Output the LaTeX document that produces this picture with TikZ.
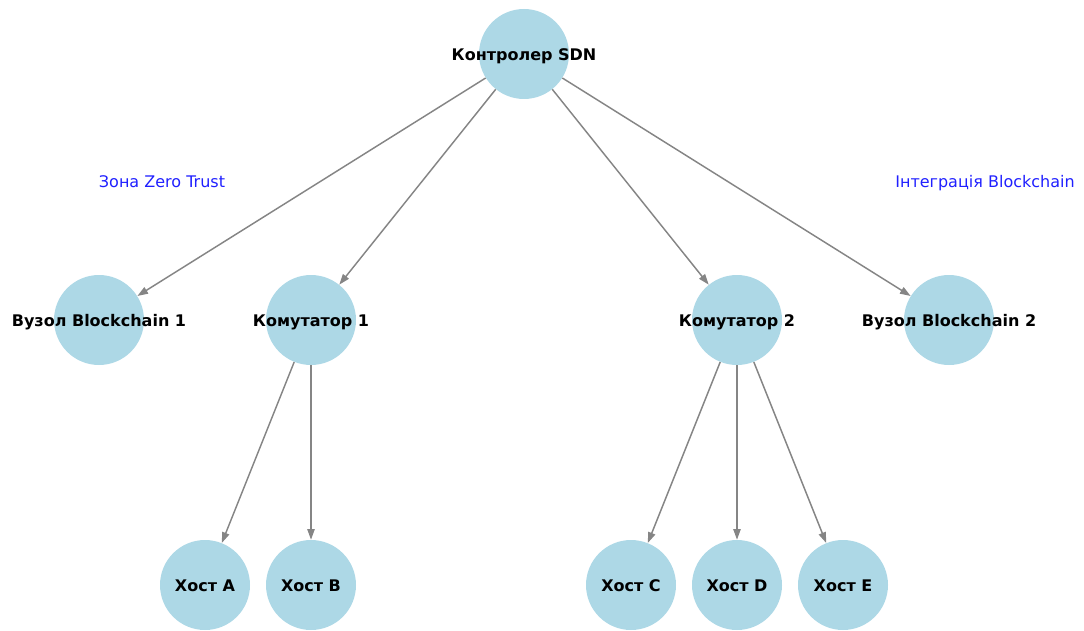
\documentclass[tikz,border=0pt]{standalone}
\usepackage{fontspec}
\setmainfont{DejaVu Sans}
\usetikzlibrary{arrows.meta}
\definecolor{nodefill}{HTML}{ADD8E6}
\definecolor{edgegray}{HTML}{858585}
\definecolor{notecol}{HTML}{2020FF}
\tikzset{
  hub/.style={circle, fill=nodefill, draw=none, minimum size=67.5pt, inner sep=0pt},
  hubtext/.style={font=\fontsize{12}{14}\selectfont\bfseries, text=black, inner sep=0pt,
    text height=0.73em, text depth=0pt, yshift=-1.5pt},
  note/.style={font=\fontsize{12}{14}\selectfont, text=notecol, inner sep=0pt,
    text height=0.73em, text depth=0pt, yshift=-1.5pt},
  link/.style={draw=edgegray, line width=1.1pt, -{Triangle[length=8pt,width=5.5pt]}}
}
\begin{document}
\begin{tikzpicture}[x=0.75pt, y=-0.75pt]
\useasboundingbox (0,0) rectangle (1084,631);
% controller
\node[hub] (ctrl) at (524,54) {};
% second tier
\node[hub] (bc1) at (99,320) {};
\node[hub] (sw1) at (311,320) {};
\node[hub] (sw2) at (737,320) {};
\node[hub] (bc2) at (949,320) {};
% hosts
\node[hub] (ha) at (205,585) {};
\node[hub] (hb) at (311,585) {};
\node[hub] (hc) at (631,585) {};
\node[hub] (hd) at (737,585) {};
\node[hub] (he) at (843,585) {};
% links
\draw[link] (ctrl) -- (bc1);
\draw[link] (ctrl) -- (sw1);
\draw[link] (ctrl) -- (sw2);
\draw[link] (ctrl) -- (bc2);
\draw[link] (sw1) -- (ha);
\draw[link] (sw1) -- (hb);
\draw[link] (sw2) -- (hc);
\draw[link] (sw2) -- (hd);
\draw[link] (sw2) -- (he);
% names
\node[hubtext] (tctrl) at (ctrl) {Контролер SDN};
\node[hubtext] (tbc1) at (bc1) {Вузол Blockchain 1};
\node[hubtext] (tsw1) at (sw1) {Комутатор 1};
\node[hubtext] (tsw2) at (sw2) {Комутатор 2};
\node[hubtext] (tbc2) at (bc2) {Вузол Blockchain 2};
\node[hubtext] (tha) at (ha) {Хост A};
\node[hubtext] (thb) at (hb) {Хост B};
\node[hubtext] (thc) at (hc) {Хост C};
\node[hubtext] (thd) at (hd) {Хост D};
\node[hubtext] (the) at (he) {Хост E};
% zone notes
\node[note] (zt) at (162,181) {Зона Zero Trust};
\node[note] (bi) at (985,181) {Інтеграція Blockchain};
\end{tikzpicture}
\end{document}
